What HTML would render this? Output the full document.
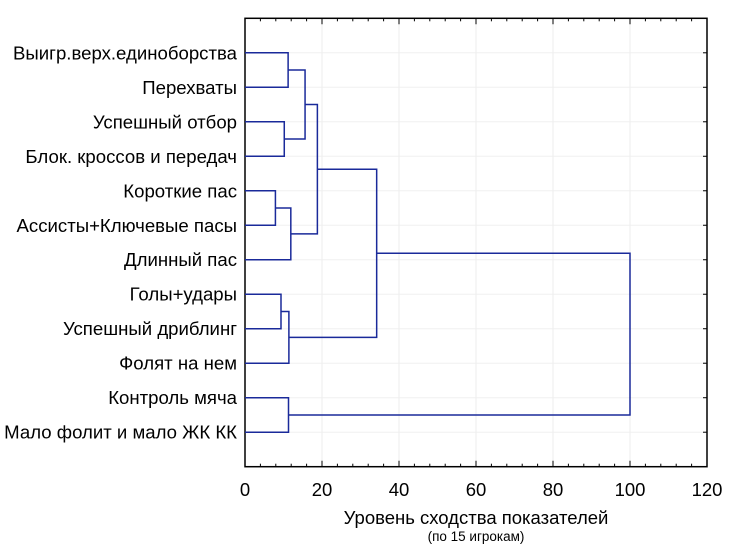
<!DOCTYPE html>
<html><head><meta charset="utf-8"><style>
body{margin:0;background:#fff;}
svg{display:block;font-family:"Liberation Sans",Arial,sans-serif;}
</style></head><body>
<svg id="chart" width="730" height="547"></svg>
<script>
const labels=["Выигр.верх.единоборства","Перехваты","Успешный отбор","Блок. кроссов и передач","Короткие пас","Ассисты+Ключевые пасы","Длинный пас","Голы+удары","Успешный дриблинг","Фолят на нем","Контроль мяча","Мало фолит и мало ЖК КК"];
const xTicks=[0,20,40,60,80,100,120];
// merges: children <12 are leaves, >=12 refer to earlier merges
const A=[0,2,12,4,15,14,7,18,17,10,20];
const B=[1,3,13,5,6,16,8,9,19,11,21];
const mergeH=[11.2,10.2,15.6,7.9,11.9,18.8,9.35,11.4,34.2,11.3,100];

const svg=document.getElementById('chart');
const NS='http://www.w3.org/2000/svg';
const L=245,R=707,T=18.3,Bm=466.7;
const x=v=>L+(v-0)/(120-0)*(R-L);
const step=(Bm-T)/(labels.length+1);
const y=i=>T+(i+1)*step;
function mk(tag,attrs){const e=document.createElementNS(NS,tag);for(const k in attrs)e.setAttribute(k,attrs[k]);svg.appendChild(e);return e;}

xTicks.forEach(t=>{if(t>0&&t<120){const g=mk('line',{x1:x(t),x2:x(t),y1:T,y2:Bm,stroke:'#ececec','stroke-width':1});

}});
labels.forEach((l,i)=>{const g=mk('line',{x1:L,x2:R,y1:y(i),y2:y(i),stroke:'#f0f0f0','stroke-width':1});

});
const fr=mk('rect',{x:L,y:T,width:R-L,height:Bm-T,fill:'none',stroke:'#000','stroke-width':1.5});


for(let v=0;v<=120;v+=4){const len=(v%20===0)?6:3;
 const t1=mk('line',{x1:x(v),x2:x(v),y1:Bm,y2:Bm-len,stroke:'#000'});
 
 
 const t2=mk('line',{x1:x(v),x2:x(v),y1:T,y2:T+len,stroke:'#000'});
 
 }
labels.forEach((l,i)=>{
 const t=mk('line',{x1:L,x2:L+4,y1:y(i),y2:y(i),stroke:'#000'});
 
 
 const t2=mk('line',{x1:R,x2:R-4,y1:y(i),y2:y(i),stroke:'#000'});
 
 
 const tx=mk('text',{x:237,y:y(i)+6.5,'text-anchor':'end','font-size':18.6,fill:'#000'});
 tx.textContent=l;
 
 
});
xTicks.forEach(t=>{const tx=mk('text',{x:x(t),y:496,'text-anchor':'middle','font-size':18.5,fill:'#000'});
 tx.textContent=t;
 
 });
const at=mk('text',{x:476,y:524,'text-anchor':'middle','font-size':18.5,fill:'#000'});at.textContent='Уровень сходства показателей';


const at2=mk('text',{x:476,y:541,'text-anchor':'middle','font-size':13.5,fill:'#000'});at2.textContent='(по 15 игрокам)';



const pos={},hgt={};
labels.forEach((l,i)=>{pos[i]=y(i);hgt[i]=0;});
A.forEach((a,k)=>{const b=B[k],h=mergeH[k],id=labels.length+k;
 const d=`M${x(hgt[a])},${pos[a]}H${x(h)}V${pos[b]}H${x(hgt[b])}`;
 const p=mk('path',{d:d,fill:'none',stroke:'#1a2a9a','stroke-width':1.5});
 
 
 pos[id]=(pos[a]+pos[b])/2;hgt[id]=h;});
</script>
</body></html>
